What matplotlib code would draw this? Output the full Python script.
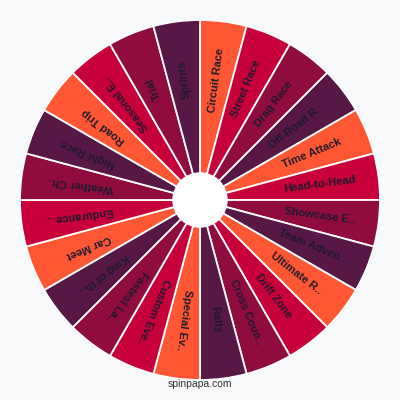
import numpy as np
import matplotlib
matplotlib.use("Agg")
import matplotlib.pyplot as plt

labels = ["Circuit Race", "Street Race", "Drag Race", "Off-Road R..", "Time Attack",
          "Head-to-Head", "Showcase E..", "Team Adven..", "Ultimate R..", "Drift Zone",
          "Cross Coun..", "Rally", "Special Ev..", "Custom Eve..", "Fastest La..",
          "King of th..", "Car Meet", "Endurance ..", "Weather Ch..", "Night Race",
          "Road Trip", "Seasonal E..", "Trial", "Sprints"]
weights = [1] * len(labels)
palette = ["#FF5733", "#C70039", "#900C3F", "#581845"]
colors = [palette[i % 4] for i in range(len(labels))]

bg = "#f8f9fb"
fig = plt.figure(figsize=(4, 4), dpi=100, facecolor=bg)
ax = fig.add_axes([0, 0, 1, 1])
ax.set_facecolor(bg)

R = 180
wedges, _ = ax.pie(weights, colors=colors, radius=R, startangle=90, counterclock=False,
                   center=(0, 0),
                   wedgeprops=dict(edgecolor="white", linewidth=1.3))

for w, lab in zip(wedges, labels):
    mid = (w.theta1 + w.theta2) / 2
    t = np.deg2rad(mid)
    r = 121
    ax.text(r * np.cos(t), r * np.sin(t), lab, rotation=mid, rotation_mode="anchor",
            ha="center", va="center", fontsize=8, fontweight="bold",
            color="#1f1a2e", family="Liberation Sans")

ax.add_patch(plt.Circle((0, 0), 27, color="white", zorder=5))
ax.text(0, -184, "spinpapa.com", ha="center", va="center", fontsize=7.5,
        color="#333333", family="Liberation Sans")

ax.set_xlim(-200, 200)
ax.set_ylim(-200, 200)
ax.set_aspect("equal")
ax.axis("off")
fig.savefig("out.png", dpi=100, facecolor=bg)
